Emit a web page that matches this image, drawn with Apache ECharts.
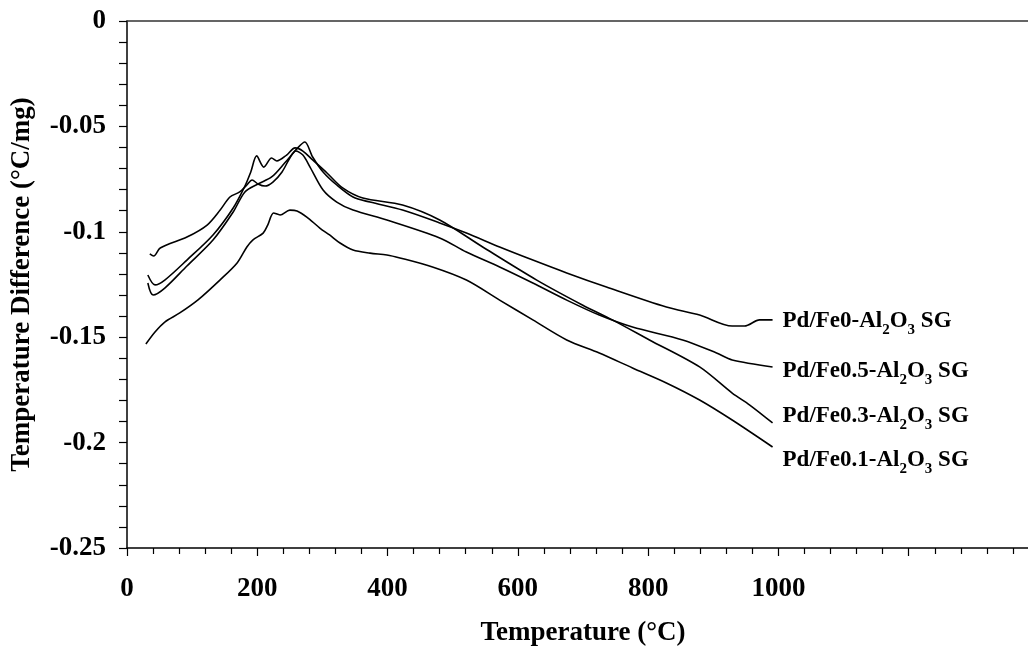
<!DOCTYPE html>
<html>
<head>
<meta charset="utf-8">
<script src="https://cdn.jsdelivr.net/npm/echarts@6/dist/echarts.min.js"></script>
<style>
html,body{margin:0;padding:0;background:#fff;}
#chart{width:1028px;height:650px;}
</style>
</head>
<body>
<div id="chart"></div>
<script>
// ---- data (temperature °C, temperature difference °C/mg) ----
var seriesNames = ['Pd/Fe0-Al2O3 SG', 'Pd/Fe0.5-Al2O3 SG', 'Pd/Fe0.3-Al2O3 SG', 'Pd/Fe0.1-Al2O3 SG'];

var fe0T = [32, 40, 58, 92, 132, 163, 181, 201, 222, 242, 262, 273, 285, 301, 322, 347, 373, 423, 480, 521, 572, 623, 675, 736, 828, 879, 929, 948, 971, 991];
var fe0V = [-0.1243, -0.1300, -0.1267, -0.1162, -0.1039, -0.0906, -0.0811, -0.0773, -0.0740, -0.0674, -0.0602, -0.0574, -0.0645, -0.0716, -0.0778, -0.0835, -0.0859, -0.0897, -0.0958, -0.1006, -0.1072, -0.1134, -0.1195, -0.1262, -0.1357, -0.1395, -0.1447, -0.1447, -0.1418, -0.1418];

var fe05T = [35, 41, 51, 92, 123, 143, 158, 173, 184, 192, 201, 212, 224, 238, 250, 259, 270, 281, 301, 322, 347, 399, 480, 521, 572, 623, 675, 725, 776, 853, 905, 929, 991];
var fe05V = [-0.1105, -0.1115, -0.1077, -0.1025, -0.0968, -0.0897, -0.0835, -0.0811, -0.0778, -0.0754, -0.0773, -0.0783, -0.0764, -0.0716, -0.0650, -0.0617, -0.0636, -0.0693, -0.0802, -0.0859, -0.0897, -0.0944, -0.1029, -0.1096, -0.1167, -0.1243, -0.1324, -0.1395, -0.1452, -0.1513, -0.1575, -0.1608, -0.1641];

var fe03T = [32, 43, 58, 92, 132, 163, 181, 190, 199, 210, 222, 230, 245, 258, 270, 285, 307, 331, 362, 423, 480, 546, 629, 699, 745, 802, 879, 929, 956, 991];
var fe03V = [-0.1205, -0.1252, -0.1229, -0.1134, -0.1015, -0.0887, -0.0783, -0.0716, -0.0640, -0.0693, -0.0650, -0.0664, -0.0636, -0.0602, -0.0617, -0.0659, -0.0721, -0.0792, -0.0840, -0.0873, -0.0944, -0.1072, -0.1229, -0.1347, -0.1418, -0.1513, -0.1641, -0.1765, -0.1822, -0.1907];

var fe01T = [29, 43, 58, 81, 109, 143, 169, 184, 193, 209, 216, 225, 235, 250, 261, 276, 296, 311, 327, 347, 373, 399, 419, 469, 521, 572, 623, 675, 725, 776, 828, 879, 929, 991];
var fe01V = [-0.1532, -0.1475, -0.1428, -0.1385, -0.1323, -0.1228, -0.1148, -0.1072, -0.1039, -0.1006, -0.0968, -0.0911, -0.0920, -0.0897, -0.0901, -0.0930, -0.0982, -0.1015, -0.1053, -0.1086, -0.1101, -0.1110, -0.1124, -0.1167, -0.1229, -0.1324, -0.1418, -0.1513, -0.1575, -0.1646, -0.1717, -0.1798, -0.1893, -0.2021];

var xTickMax = 1000;   // last labelled x tick
var yTicks = [0, -0.05, -0.1, -0.15, -0.2, -0.25];

function pairs(t, v) { return t.map(function (x, i) { return [x, v[i]]; }); }

// label rich text: subscript the 2 and 3
function labelText(name) {
  var m = name.match(/^(.*Al)2O3(.*)$/);
  return '{a|' + m[1] + '}{s|2}{a|O}{s|3}{a|' + m[2] + '}';
}

var FONT = 'Liberation Serif';
var rich = {
  a: { fontFamily: FONT, fontWeight: 'bold', fontSize: 23, color: '#000', verticalAlign: 'bottom', lineHeight: 26 },
  s: { fontFamily: FONT, fontWeight: 'bold', fontSize: 15, color: '#000', verticalAlign: 'bottom', lineHeight: 15, padding: [0, 0, -5, 0] }
};

var labelOffsets = [[0, 0], [0, 3], [0, -8], [0, 12]];
var dataSets = [pairs(fe0T, fe0V), pairs(fe05T, fe05V), pairs(fe03T, fe03V), pairs(fe01T, fe01V)];

var series = dataSets.map(function (d, i) {
  return {
    name: seriesNames[i],
    type: 'line',
    data: d,
    showSymbol: false,
    smooth: 0.3,
    lineStyle: { color: '#000', width: 1.6 },
    emphasis: { disabled: true },
    endLabel: {
      show: true,
      distance: 10,
      offset: labelOffsets[i],
      formatter: function () { return labelText(seriesNames[i]); },
      rich: rich
    }
  };
});

var chart = echarts.init(document.getElementById('chart'));
chart.setOption({
  animation: false,
  backgroundColor: '#fff',
  grid: { left: 127, right: -11, top: 21, bottom: 102, containLabel: false, outerBoundsMode: 'none' },
  xAxis: [{
    type: 'value',
    min: 0, max: 1400, interval: 200,
    name: 'Temperature (°C)',
    nameLocation: 'middle',
    nameGap: 72,
    nameTextStyle: { fontFamily: FONT, fontWeight: 'bold', fontSize: 27, color: '#000' },
    axisLine: { show: true, onZero: false, lineStyle: { color: '#000', width: 1.5 } },
    axisTick: { show: true, inside: false, length: 8, lineStyle: { color: '#000', width: 1.2 } },
    minorTick: { show: true, splitNumber: 5, length: 6, lineStyle: { color: '#000', width: 1.2 } },
    splitLine: { show: false },
    minorSplitLine: { show: false },
    axisLabel: {
      margin: 28,
      fontFamily: FONT, fontWeight: 'bold', fontSize: 27, color: '#000',
      formatter: function (v) { return v <= xTickMax ? String(v) : ''; }
    }
  }, {
    type: 'value',
    position: 'top',
    min: 0, max: 1400,
    axisLine: { show: true, onZero: false, lineStyle: { color: '#333', width: 1.5 } },
    axisTick: { show: false },
    axisLabel: { show: false },
    splitLine: { show: false }
  }],
  yAxis: {
    type: 'value',
    min: -0.25, max: 0, interval: 0.05,
    name: 'Temperature Difference (°C/mg)',
    nameLocation: 'middle',
    nameGap: 91,
    nameRotate: 90,
    nameTextStyle: { fontFamily: FONT, fontWeight: 'bold', fontSize: 27, color: '#000' },
    axisLine: { show: true, onZero: false, lineStyle: { color: '#000', width: 1.5 } },
    axisTick: { show: true, inside: false, length: 8, lineStyle: { color: '#000', width: 1.2 } },
    minorTick: { show: true, splitNumber: 5, length: 8, lineStyle: { color: '#000', width: 1.2 } },
    splitLine: { show: false },
    axisLabel: {
      margin: 21,
      fontFamily: FONT, fontWeight: 'bold', fontSize: 27, color: '#000',
      formatter: function (v) {
        var r = Math.round(v * 100) / 100;
        return yTicks.indexOf(r) >= 0 ? String(r) : '';
      }
    }
  },
  series: series
});
</script>
</body>
</html>
